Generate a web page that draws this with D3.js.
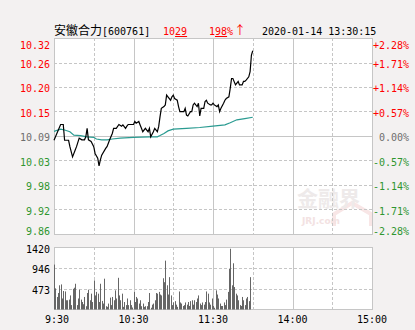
<!DOCTYPE html>
<html>
<head>
<meta charset="utf-8">
<script src="https://cdn.jsdelivr.net/npm/d3@7"></script>
<style>
body{margin:0;background:#f3f1f1;}
svg{display:block;}
text{font-family:"DejaVu Sans Mono",monospace;font-size:10px;white-space:pre;}
</style>
</head>
<body>
<div id="chart"></div>
<script>
// header
var stockName = "安徽合力";
var stockCode = "600761";
var lastPrice = ["10", "29"];
var lastPct = ["1", "98", "%"];
var stamp = "2020-01-14 13:30:15";

var prevClose = 10.09;
var pctTicks = [2.28, 1.71, 1.14, 0.57, 0, -0.57, -1.14, -1.71, -2.28];
var priceLabels = ["10.32", "10.26", "10.20", "10.15", "10.09", "10.03", "9.98", "9.92", "9.86"];
var pctLabels = ["+2.28%", "+1.71%", "+1.14%", "+0.57%", " 0.00%", "-0.57%", "-1.14%", "-1.71%", "-2.28%"];

// minutes since 9:30 (lunch break removed)
var timeTicks = [0, 60, 120, 180, 240];
var timeLabels = [" 9:30", "10:30", "11:30", "14:00", "15:00"];

var volTicks = [1420, 946, 473];

// price line
var priceMin = [0,5,7,8,11,12,14,16,17,19,21,23,24,25,26,28,30,31,33,34,35,36,39,40,41,42,44,45,47,49,51,52,54,55,56,60,61,62,64,65,66,67,69,70,71,72,73,75,76,78,79,80,81,83,84,85,86,88,89,90,91,93,94,95,98,99,100,101,103,104,105,106,108,109,110,111,113,114,115,116,118,119,120,121,123,124,125,126,128,129,130,132,133,134,135,137,138,139,140,142,143,144,145,147,148,149,150];
var priceVal = [10.08,10.117,10.117,10.08,10.08,10.065,10.041,10.057,10.065,10.085,10.081,10.081,10.088,10.108,10.081,10.077,10.065,10.049,10.038,10.02,10.034,10.045,10.061,10.065,10.073,10.081,10.096,10.108,10.108,10.117,10.113,10.116,10.108,10.113,10.117,10.117,10.124,10.12,10.124,10.116,10.108,10.1,10.108,10.104,10.1,10.108,10.088,10.1,10.108,10.1,10.112,10.135,10.155,10.159,10.163,10.186,10.182,10.174,10.182,10.186,10.178,10.174,10.159,10.147,10.147,10.155,10.139,10.137,10.147,10.147,10.163,10.167,10.159,10.167,10.137,10.155,10.155,10.171,10.174,10.167,10.163,10.163,10.167,10.163,10.159,10.163,10.147,10.155,10.167,10.174,10.178,10.182,10.202,10.225,10.225,10.21,10.214,10.218,10.21,10.21,10.218,10.218,10.221,10.229,10.241,10.28,10.29];

// average price line
var avgMin = [0,5,8,12,15,20,25,30,32,36,40,44,50,60,72,78,80,83,86,90,100,110,120,129,133,138,144,150];
var avgVal = [10.101,10.106,10.104,10.1,10.092,10.091,10.088,10.087,10.083,10.081,10.081,10.083,10.085,10.087,10.088,10.088,10.091,10.096,10.102,10.106,10.108,10.11,10.113,10.116,10.121,10.128,10.131,10.134];

// volume per minute
var volume = [1020,480,285,375,550,570,250,420,410,210,
  210,225,320,100,470,495,585,100,250,450,
  225,170,120,285,75,375,450,210,360,170,
  660,320,400,360,170,585,195,135,700,75,
  60,135,270,100,285,210,435,250,720,320,
  210,360,60,170,100,250,100,210,100,45,
  400,170,285,250,135,210,75,135,60,75,
  75,170,375,40,110,135,210,375,360,400,
  340,320,710,620,1110,550,340,735,320,100,
  160,190,110,60,410,160,135,80,100,160,
  110,170,80,190,210,110,210,170,250,320,
  135,100,160,110,170,410,360,160,110,250,
  80,40,435,340,250,135,80,80,160,100,
  225,400,920,1380,550,1050,510,360,320,210,
  100,80,285,210,100,250,285,190,735];

var width = 415, height = 330;
var red = "#ff0000", green = "#2f962f", gray = "#6e6e6e", gridc = "#c6c6c6";

var svg = d3.select("#chart").append("svg")
  .attr("width", width)
  .attr("height", height);

var x = d3.scaleLinear().domain([0, 240]).range([54, 372]);
var y = d3.scaleLinear().domain([prevClose * (1 - 0.0228), prevClose * (1 + 0.0228)]).range([234, 38]);
var yv = d3.scaleLinear().domain([0, 1420]).range([309.5, 247]);

function px(v) { return Math.round(v) + 0.5; }
function pctY(p) { return y(prevClose * (1 + p / 100)); }

// panels
svg.append("rect").attr("x", 54.5).attr("y", 38.5).attr("width", 318).attr("height", 196)
  .attr("fill", "#fff");
svg.append("rect").attr("x", 54.5).attr("y", 247.5).attr("width", 318).attr("height", 62)
  .attr("fill", "#fff");

// watermark
var wm = svg.append("g");
wm.append("path")
  .attr("d", "M334,226 L334,214 L352,203 L371,214 L371,226")
  .attr("fill", "none").attr("stroke", "#f8e6e6").attr("stroke-width", 4);
wm.append("text").attr("x", 297).attr("y", 206)
  .style("font-family", "Noto Sans CJK SC").style("font-size", "21px").style("font-weight", "bold")
  .attr("fill", "#eeeaea").text("金融界");
wm.append("text").attr("x", 302).attr("y", 224)
  .style("font-family", "DejaVu Sans").style("font-size", "9px").style("font-weight", "bold")
  .attr("fill", "#f3e2e2").text("JRJ.com");

// vertical grid, both panels
var vgrid = [30, 60, 90, 120, 150, 180, 210];
[[38, 234], [247, 309]].forEach(function(r) {
  svg.selectAll(null).data(vgrid).enter().append("line")
    .attr("x1", function(d) { return px(x(d)); })
    .attr("x2", function(d) { return px(x(d)); })
    .attr("y1", r[0]).attr("y2", r[1])
    .attr("stroke", gridc)
    .attr("stroke-dasharray", function(d) { return d % 60 === 0 ? null : "3,2"; });
});

// horizontal grid, price panel
svg.selectAll(null).data(pctTicks.slice(1, -1)).enter().append("line")
  .attr("x1", 54).attr("x2", 372)
  .attr("y1", function(d) { return px(pctY(d)); })
  .attr("y2", function(d) { return px(pctY(d)); })
  .attr("stroke", gridc)
  .attr("stroke-dasharray", function(d) { return d === 0 ? null : "3,2"; });

// horizontal grid, volume panel
svg.selectAll(null).data(volTicks.slice(1)).enter().append("line")
  .attr("x1", 54).attr("x2", 372)
  .attr("y1", function(d) { return px(yv(d)); })
  .attr("y2", function(d) { return px(yv(d)); })
  .attr("stroke", gridc).attr("stroke-dasharray", "3,2");

// borders
svg.append("rect").attr("x", 54.5).attr("y", 38.5).attr("width", 318).attr("height", 196)
  .attr("fill", "none").attr("stroke", gridc);
svg.append("rect").attr("x", 54.5).attr("y", 247.5).attr("width", 318).attr("height", 62)
  .attr("fill", "none").attr("stroke", gridc);

// volume bars
svg.append("g").selectAll("rect").data(volume).enter().append("rect")
  .attr("x", function(d, i) { return Math.round(x(i)); })
  .attr("y", function(d) { return yv(d); })
  .attr("width", 1)
  .attr("height", function(d) { return yv(0) - yv(d); })
  .attr("fill", "#666");

// average line
var avgPts = avgMin.map(function(m, i) { return [m, avgVal[i]]; });
svg.append("path").datum(avgPts)
  .attr("d", d3.line().x(function(d) { return x(d[0]); }).y(function(d) { return y(d[1]); }))
  .attr("fill", "none").attr("stroke", "#2a9b91").attr("stroke-width", 1.2);

// price line
var pricePts = priceMin.map(function(m, i) { return [m, priceVal[i]]; });
svg.append("path").datum(pricePts)
  .attr("d", d3.line().x(function(d) { return x(d[0]); }).y(function(d) { return y(d[1]); }))
  .attr("fill", "none").attr("stroke", "#000").attr("stroke-width", 1.2);

// y labels
function tickColor(p) { return p > 0 ? red : (p < 0 ? green : gray); }
function labelOff(i) { return i === 0 ? 7 : (i === pctTicks.length - 1 ? -3 : 1.5); }

svg.selectAll(null).data(pctTicks).enter().append("text")
  .attr("x", 50)
  .attr("y", function(d, i) { return pctY(d) + labelOff(i); })
  .attr("text-anchor", "end").attr("dominant-baseline", "central")
  .attr("fill", tickColor)
  .text(function(d, i) { return priceLabels[i]; });

svg.selectAll(null).data(pctTicks).enter().append("text")
  .attr("x", 373)
  .attr("y", function(d, i) { return pctY(d) + labelOff(i); })
  .attr("dominant-baseline", "central")
  .attr("fill", tickColor)
  .text(function(d, i) { return pctLabels[i]; });

svg.selectAll(null).data(volTicks).enter().append("text")
  .attr("x", 50)
  .attr("y", function(d, i) { return yv(d) + (i === 0 ? 2 : 1.5); })
  .attr("text-anchor", "end").attr("dominant-baseline", "central")
  .attr("fill", "#000")
  .text(function(d) { return d; });

// time labels
svg.selectAll(null).data(timeTicks).enter().append("text")
  .attr("x", function(d) { return x(d); })
  .attr("y", 319)
  .attr("text-anchor", "middle").attr("dominant-baseline", "central")
  .attr("fill", "#000")
  .text(function(d, i) { return timeLabels[i]; });

// header
var head = svg.append("text").attr("y", 35).attr("fill", "#000");
head.append("tspan").attr("x", 54)
  .style("font-family", "Noto Sans CJK SC").style("font-size", "12px").text(stockName);
head.append("tspan").text("[" + stockCode + "]");

var pr = svg.append("text").attr("x", 163).attr("y", 35).attr("fill", red);
pr.append("tspan").text(lastPrice[0]);
pr.append("tspan").style("text-decoration", "underline").text(lastPrice[1]);

var pc = svg.append("text").attr("x", 209).attr("y", 35).attr("fill", red);
pc.append("tspan").text(lastPct[0]);
pc.append("tspan").style("text-decoration", "underline").text(lastPct[1]);
pc.append("tspan").text(lastPct[2]);
pc.append("tspan").attr("dx", 1)
  .style("font-family", "Noto Sans CJK SC").style("font-size", "12px").text("↑");

svg.append("text").attr("x", 262).attr("y", 35).attr("fill", "#000").text(stamp);
</script>
</body>
</html>
